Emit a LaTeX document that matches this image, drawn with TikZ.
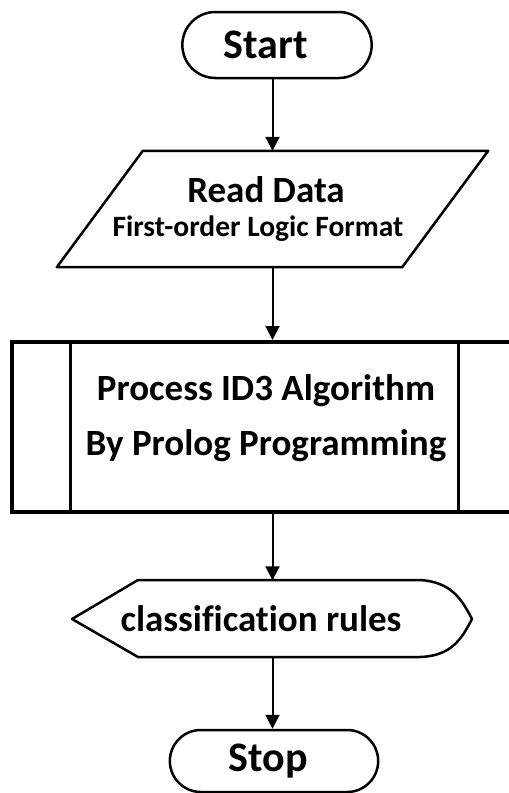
\documentclass[tikz,border=0pt]{standalone}
\usepackage{fontspec}
\setmainfont{Carlito}[Ligatures=CommonOff]
\usetikzlibrary{arrows.meta,positioning,shapes.misc}

\tikzset{
  terminal/.style={draw,rounded rectangle,line width=2.5pt,font=\bfseries\fontsize{42}{48}\selectfont},
  datain/.style={rectangle,minimum width=431pt,minimum height=116pt,align=center,font=\bfseries\fontsize{37}{40}\selectfont},
  subproc/.style={draw,rectangle,line width=4pt,minimum width=504pt,minimum height=170pt},
  flowline/.style={line width=2pt,->}
}

\begin{document}
\begin{tikzpicture}[x=1pt,y=-1pt,>={Triangle[length=14pt,width=14pt]}]
  \useasboundingbox (0,0) rectangle (509,793);
  \node[terminal,minimum width=196pt,minimum height=66pt] (start) at (277,45) {\hspace*{-22pt}Start};
  \node[datain] (read) at (272.5,209) {\hspace*{-13pt}Read Data\\[-6pt]\makebox[240pt]{\hspace*{-29pt}\fontsize{29.5}{30}\selectfont First-order Logic Format}};
  % parallelogram round the data node
  \draw[line width=2.5pt,line join=round] ([xshift=86pt]read.north west) -- (read.north east)
    -- ([xshift=-86pt]read.south east) -- (read.south west) -- cycle;
  \node[subproc] (process) at (264,427) {};
  \node[align=center,font=\bfseries\fontsize{37}{55}\selectfont] (proctext) at (266,418) {Process ID3 Algorithm\\By Prolog Programming};
  \draw[line width=3pt] ([xshift=60pt]process.north west) -- ([xshift=60pt]process.south west);
  \draw[line width=3pt] ([xshift=-60pt]process.north east) -- ([xshift=-60pt]process.south east);
  % display shape
  \node[minimum height=77pt,font=\bfseries\fontsize{37}{40}\selectfont] (rules) at (261,619) {classification rules};
  \draw[line width=2.5pt,line join=round] (72,619) -- (138,580) -- (420,580)
    .. controls (452,582) and (462,600) .. (472,619)
    .. controls (462,638) and (452,656) .. (420,657) -- (138,657) -- cycle;
  \node[terminal,minimum width=215pt,minimum height=62pt] (stop) at (274,761) {\hspace*{-12pt}Stop};

  \draw[flowline] (read.north |- start.south) -- (read.north);
  \draw[flowline] (read.south) -- (read.south |- process.north);
  \draw[flowline] (process.south -| read.south) -- (read.south |- rules.north);
  \draw[flowline] (read.south |- rules.south) -- (read.south |- stop.north);
\end{tikzpicture}
\end{document}
